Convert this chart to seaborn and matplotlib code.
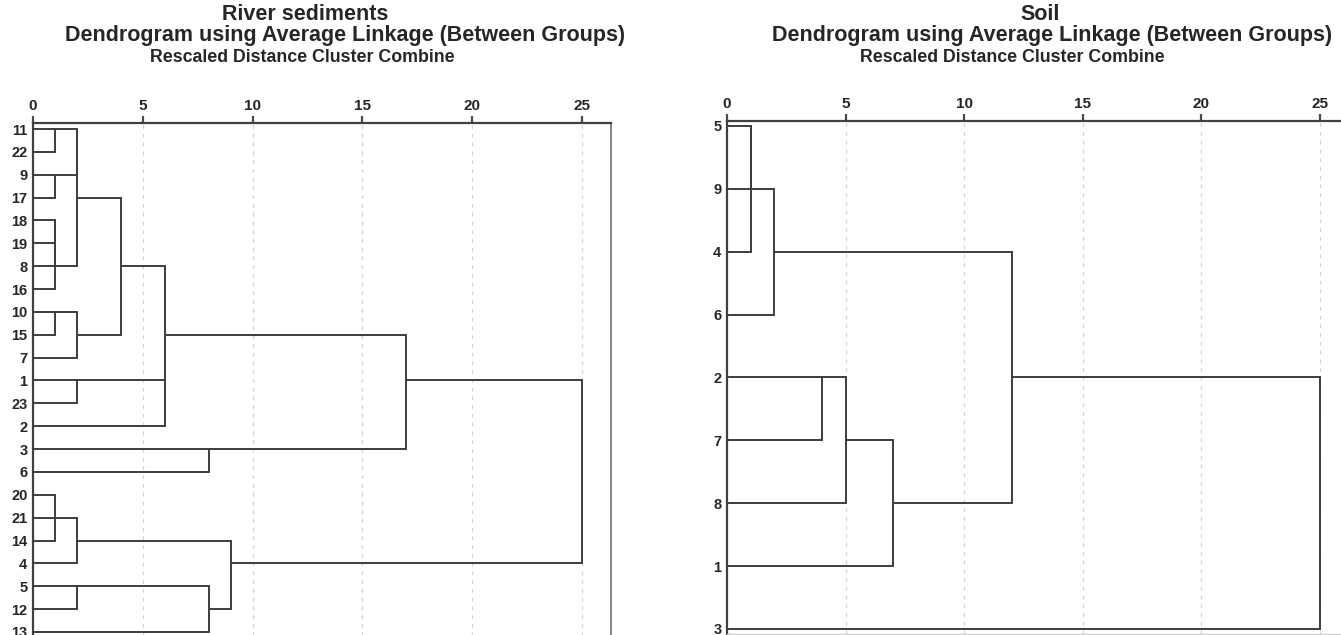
import matplotlib
matplotlib.use("Agg")
import matplotlib.pyplot as plt
import pandas as pd
import seaborn as sns

# ---- River sediments: leaf order (top to bottom) and agglomeration steps ----
sed_leaves = ["11", "22", "9", "17", "18", "19", "8", "16", "10", "15", "7",
              "1", "23", "2", "3", "6", "20", "21", "14", "4", "5", "12", "13"]
# each step joins leaves ("11") or earlier steps ("m0") at a rescaled distance
sed_steps = [["11", "22"], ["9", "17"], ["18", "19"], ["m2", "8"], ["m3", "16"],
             ["m0", "m1", "m4"], ["10", "15"], ["m6", "7"], ["m5", "m7"],
             ["1", "23"], ["m8", "m9", "2"], ["3", "6"], ["m10", "m11"],
             ["20", "21", "14"], ["m13", "4"], ["5", "12"], ["m15", "13"],
             ["m14", "m16"], ["m12", "m17"]]
sed_dist = [1, 1, 1, 1, 1, 2, 1, 2, 4, 2, 6, 8, 17, 1, 2, 2, 8, 9, 25]

# ---- Soil ----
soil_leaves = ["5", "9", "4", "6", "2", "7", "8", "1", "3"]
soil_steps = [["5", "9"], ["m0", "4"], ["m1", "6"], ["2", "7"], ["m3", "8"],
              ["m4", "1"], ["m2", "m5"], ["m6", "3"]]
soil_dist = [1, 1, 2, 4, 5, 7, 12, 25]

x_ticks = [0, 5, 10, 15, 20, 25]


def dendro_segments(leaves, steps, dist):
    """SPSS-style elbow segments: each cluster is carried on the row midway
    between the rows of its outermost members."""
    row = {lab: i for i, lab in enumerate(leaves)}
    height = {lab: 0.0 for lab in leaves}
    recs = []
    seg = 0
    for k, (members, h) in enumerate(zip(steps, dist)):
        rows = [row[m] for m in members]
        for m in members:
            recs += [(seg, height[m], row[m]), (seg, h, row[m])]
            seg += 1
        recs += [(seg, h, min(rows)), (seg, h, max(rows))]
        seg += 1
        name = f"m{k}"
        row[name] = (min(rows) + max(rows)) // 2
        height[name] = h
    return pd.DataFrame(recs, columns=["seg", "dist", "row"])


sns.set_style("white")
plt.rcParams["font.family"] = ["Liberation Sans", "DejaVu Sans"]

W, H = 1341, 635
fig = plt.figure(figsize=(W / 100, H / 100), dpi=100)
line_col = "#3d3d3d"


def px_axes(x0, x1, y0, y1):
    return fig.add_axes([x0 / W, 1 - y1 / H, (x1 - x0) / W, (y1 - y0) / H])


def draw(ax, leaves, steps, dist, xmax, ylim, right_spine, bottom_spine):
    df = dendro_segments(leaves, steps, dist)
    sns.lineplot(data=df, x="dist", y="row", units="seg", estimator=None,
                 sort=False, color=line_col, linewidth=1.4, ax=ax, legend=False)
    ax.set_xlim(0, xmax)
    ax.set_ylim(*ylim)
    ax.set_xticks(x_ticks)
    ax.set_xticklabels([str(t) for t in x_ticks], fontweight="bold", fontsize=11)
    ax.xaxis.tick_top()
    ax.tick_params(axis="x", direction="out", length=5, width=1.6,
                   color="#4a4a4a", pad=2)
    ax.set_yticks(range(len(leaves)))
    ax.set_yticklabels(leaves, fontweight="bold", fontsize=10.5)
    ax.tick_params(axis="y", length=0, pad=4)
    ax.set_xlabel("")
    ax.set_ylabel("")
    ax.xaxis.grid(True, linestyle=(0, (3, 4)), color="#d2d2d2", linewidth=0.9)
    ax.yaxis.grid(False)
    ax.set_axisbelow(True)
    for side in ("top", "left"):
        ax.spines[side].set_color("#404040")
        ax.spines[side].set_linewidth(1.6)
    if bottom_spine:
        ax.spines["bottom"].set_color("#cccccc")
        ax.spines["bottom"].set_linewidth(1.0)
    else:
        ax.spines["bottom"].set_visible(False)
    if right_spine:
        ax.spines["right"].set_color("#7a7a7a")
        ax.spines["right"].set_linewidth(1.3)
    else:
        ax.spines["right"].set_visible(False)


# left panel: distance 0 -> 33 px, 25 -> 582 px; rows 129 .. 632 px
ax1 = px_axes(33, 611, 123, 640)
draw(ax1, sed_leaves, sed_steps, sed_dist, (611 - 33) / 21.96,
     (22 + 8 / 22.86, -6 / 22.86), True, False)

# right panel: distance 0 -> 727 px, 25 -> 1320 px; rows 126 .. 629 px
ax2 = px_axes(727, 1346, 121, 634)
draw(ax2, soil_leaves, soil_steps, soil_dist, (1346 - 727) / 23.72,
     (8 + 5 / 62.875, -5 / 62.875), False, True)


def titles(name, cx_name, cx_main, cx_sub):
    fig.text(cx_name / W, 1 - 14 / H, name, ha="center", va="center",
             fontsize=15.5, fontweight="bold")
    fig.text(cx_main / W, 1 - 36 / H,
             "Dendrogram using Average Linkage (Between Groups)",
             ha="center", va="center", fontsize=15.5, fontweight="bold")
    fig.text(cx_sub / W, 1 - 58 / H, "Rescaled Distance Cluster Combine",
             ha="center", va="center", fontsize=12.8, fontweight="bold")


titles("River sediments", 305, 345, 302)
titles("Soil", 1040, 1052, 1012)

fig.savefig("out.png", dpi=100)
